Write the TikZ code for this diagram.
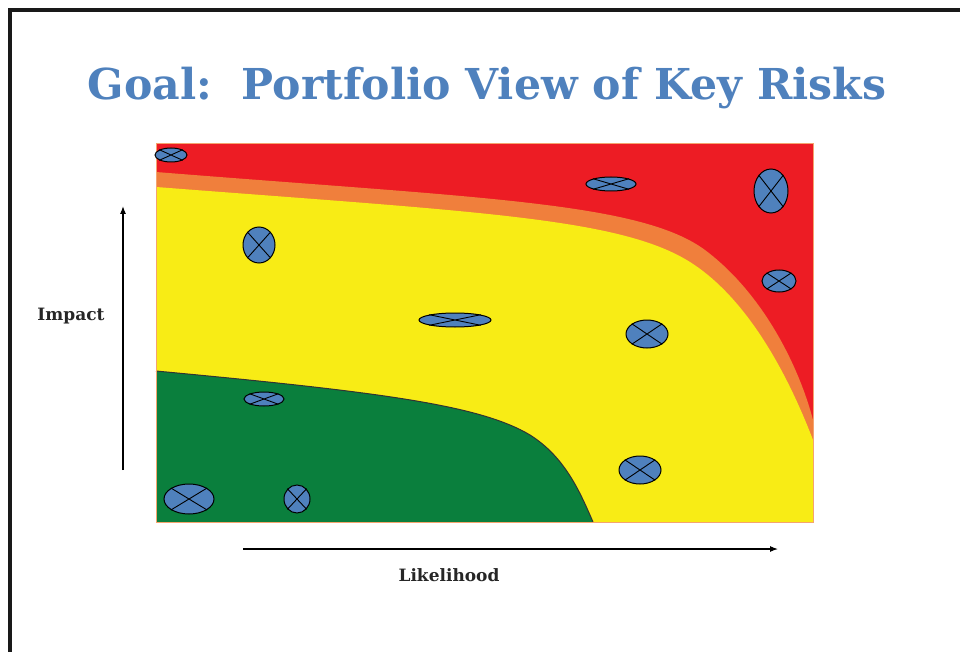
\documentclass[tikz,border=0pt]{standalone}
\usepackage{fontspec}
\setmainfont{DejaVu Serif}
\usetikzlibrary{shapes.geometric,arrows.meta}

\definecolor{riskred}{HTML}{ED1C24}
\definecolor{riskorange}{HTML}{F07F3C}
\definecolor{riskyellow}{HTML}{F8EC15}
\definecolor{riskgreen}{HTML}{0A7F3D}
\definecolor{riskblue}{HTML}{4F81BD}
\definecolor{plotedge}{HTML}{F5A46E}

\tikzset{
    risk/.style={ellipse, draw=black, fill=riskblue, inner sep=0pt, line width=1pt},
    axislabel/.style={font=\bfseries\fontsize{17}{20}\selectfont, text=black!85},
    axisarrow/.style={-{Latex[length=8pt,width=6pt]}, line width=1.1pt}
}

\begin{document}
\begin{tikzpicture}[x=1pt, y=-1pt]
    \useasboundingbox (0,0) rectangle (960,652);

    % Slide frame and title
    \draw[line width=4pt, black!90] (10,652) -- (10,10) -- (960,10);
    \node[text=riskblue, font=\bfseries\fontsize{42.6}{48}\selectfont] (title) at (487,88) {Goal:\ \ Portfolio View of Key Risks};

    % Zones of the heat map
    \fill[riskred] (156,144) rectangle (813,522);
    \fill[riskorange] (156,172) .. controls (480,198) and (640,202) .. (705,250)
        .. controls (765,295) and (800,370) .. (813,420) -- (813,522) -- (156,522) -- cycle;
    \fill[riskyellow] (156,187) .. controls (480,212) and (620,218) .. (690,262)
        .. controls (750,300) and (790,380) .. (813,440) -- (813,522) -- (156,522) -- cycle;
    \fill[riskgreen] (156,371) .. controls (380,392) and (480,405) .. (530,435)
        .. controls (565,457) and (580,492) .. (593,522) -- (156,522) -- cycle;
    \draw[black!80, line width=1pt] (156,371) .. controls (380,392) and (480,405) .. (530,435)
        .. controls (565,457) and (580,492) .. (593,522);
    \draw[plotedge, line width=1pt] (156,144) rectangle (813,522);

    % Risks: name/x/y/width/height
    \foreach \n/\x/\y/\w/\h in {a/171/155/32/14, b/259/245/32/36, c/611/184/50/14,
        d/771/191/34/44, e/779/281/34/22, f/455/320/72/14, g/647/334/42/28,
        h/264/399/40/14, i/189/499/50/30, j/297/499/26/28, k/640/470/42/28} {
        \node[risk, minimum width=\w pt, minimum height=\h pt] (r\n) at (\x,\y) {};
        \draw[line width=0.9pt] (r\n.north west) -- (r\n.south east)
            (r\n.north east) -- (r\n.south west);
    }

    % Axes
    \coordinate (ybot) at (123,470);
    \coordinate (ytop) at (123,206);
    \coordinate (xleft) at (243,549);
    \coordinate (xright) at (778,549);
    \draw[axisarrow] (ybot) -- (ytop);
    \draw[axisarrow] (xleft) -- (xright);
    \node[axislabel] (impact) at (71,316) {Impact};
    \node[axislabel] (likelihood) at (449,575) {Likelihood};
\end{tikzpicture}
\end{document}
